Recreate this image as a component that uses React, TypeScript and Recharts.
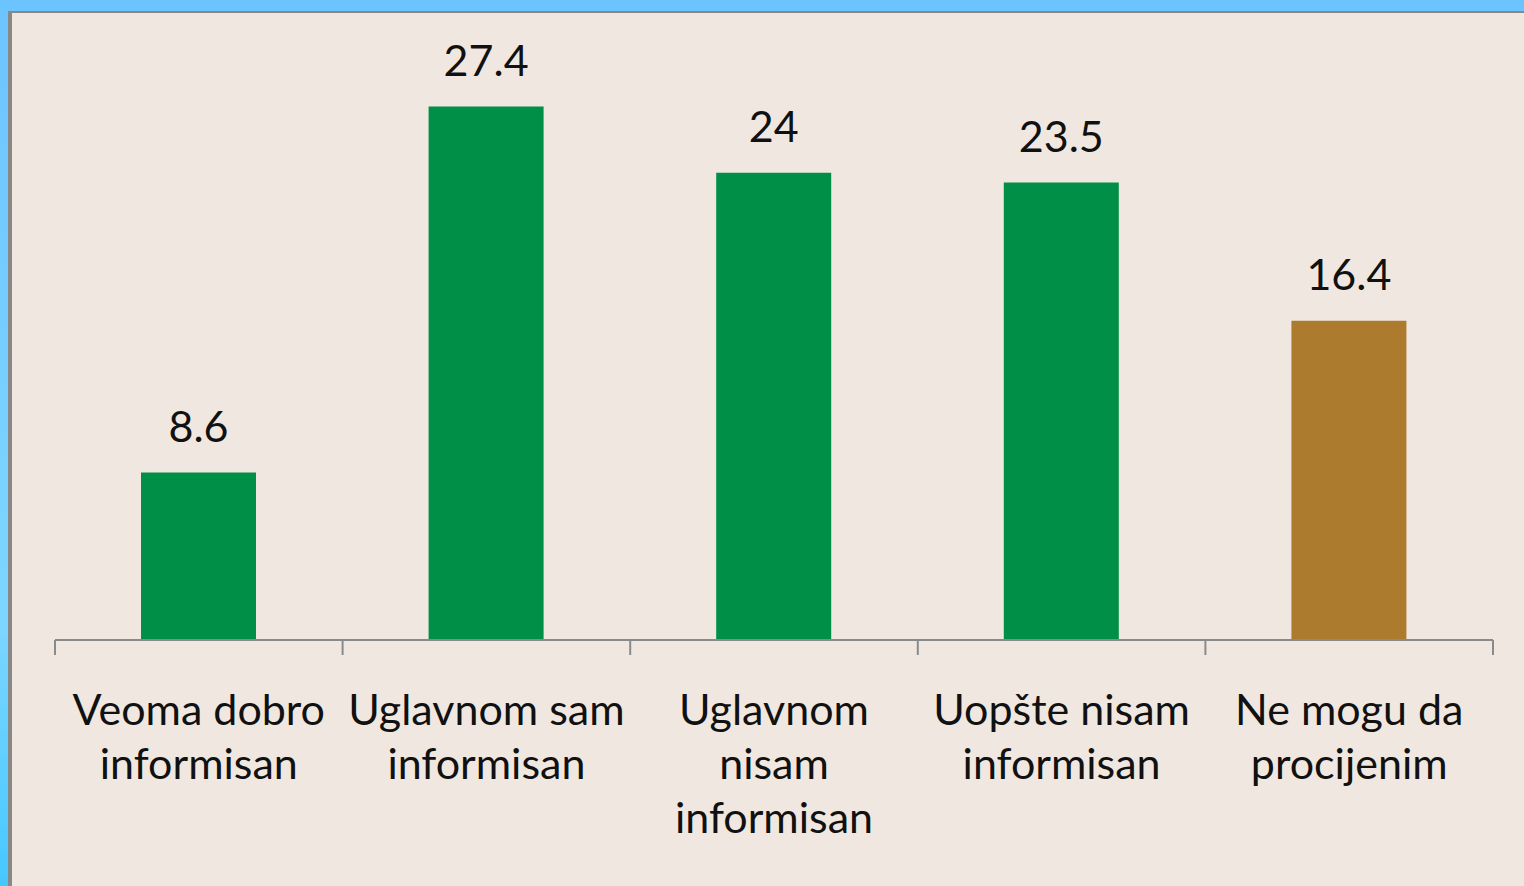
import { BarChart, Bar, XAxis, YAxis, Cell, LabelList } from "recharts";

const categories = [
  ["Veoma dobro", "informisan"],
  ["Uglavnom sam", "informisan"],
  ["Uglavnom", "nisam", "informisan"],
  ["Uopšte nisam", "informisan"],
  ["Ne mogu da", "procijenim"],
];
const values = [8.6, 27.4, 24, 23.5, 16.4];
const barColors = ["#008F47", "#008F47", "#008F47", "#008F47", "#AD7B2D"];
const boundaryTicks = [0, 1, 2, 3, 4, 5];

const data = categories.map((lines, i) => ({
  name: lines.join(" "),
  pos: i + 0.5,
  value: values[i],
}));

const FONT = "Lato, 'Open Sans', sans-serif";

function CategoryTick(props: any) {
  const { x, y, index } = props;
  const lines = categories[index] || [];
  return (
    <text
      x={x}
      y={y}
      textAnchor="middle"
      fill="#111"
      fontSize={43}
      fontFamily={FONT}
    >
      {lines.map((l, i) => (
        <tspan key={i} x={x} dy={i === 0 ? 70 : 54}>
          {l}
        </tspan>
      ))}
    </text>
  );
}

const NoLabel = () => <g />;

export default function App() {
  return (
    <div
      style={{
        position: "absolute",
        left: 0,
        top: 0,
        width: 1524,
        height: 886,
        background: "linear-gradient(to bottom, #6CC4FF, #7DD6FF 70%, #45C8FF)",
        overflow: "hidden",
      }}
    >
      <div
        style={{
          position: "absolute",
          left: 8,
          top: 11,
          width: 1516,
          height: 875,
          background: "#8A8886",
        }}
      />
      <div
        style={{
          position: "absolute",
          left: 12,
          top: 13,
          width: 1512,
          height: 873,
          background: "#F0E8E0",
        }}
      >
        <BarChart
          width={1512}
          height={873}
          data={data}
          margin={{ top: 43, right: 31, bottom: 0, left: 43 }}
        >
          <XAxis
            xAxisId="bounds"
            dataKey="pos"
            type="number"
            domain={[0, 5]}
            ticks={boundaryTicks}
            interval={0}
            allowDataOverflow
            tick={NoLabel}
            tickSize={15}
            height={15}
            stroke="#8A8A8A"
            strokeWidth={2}
          />
          <XAxis
            dataKey="name"
            xAxisId="cat"
            axisLine={false}
            tickLine={false}
            tickSize={0}
            tickMargin={0}
            height={231}
            interval={0}
            tick={<CategoryTick />}
          />
          <YAxis hide domain={[0, 30]} width={0} />
          <Bar
            dataKey="value"
            xAxisId="cat"
            barSize={115}
            isAnimationActive={false}
          >
            {data.map((d, i) => (
              <Cell key={d.name} fill={barColors[i]} />
            ))}
            <LabelList
              dataKey="value"
              position="top"
              offset={31}
              fill="#111"
              fontSize={43}
              fontFamily={FONT}
            />
          </Bar>
        </BarChart>
      </div>
    </div>
  );
}
